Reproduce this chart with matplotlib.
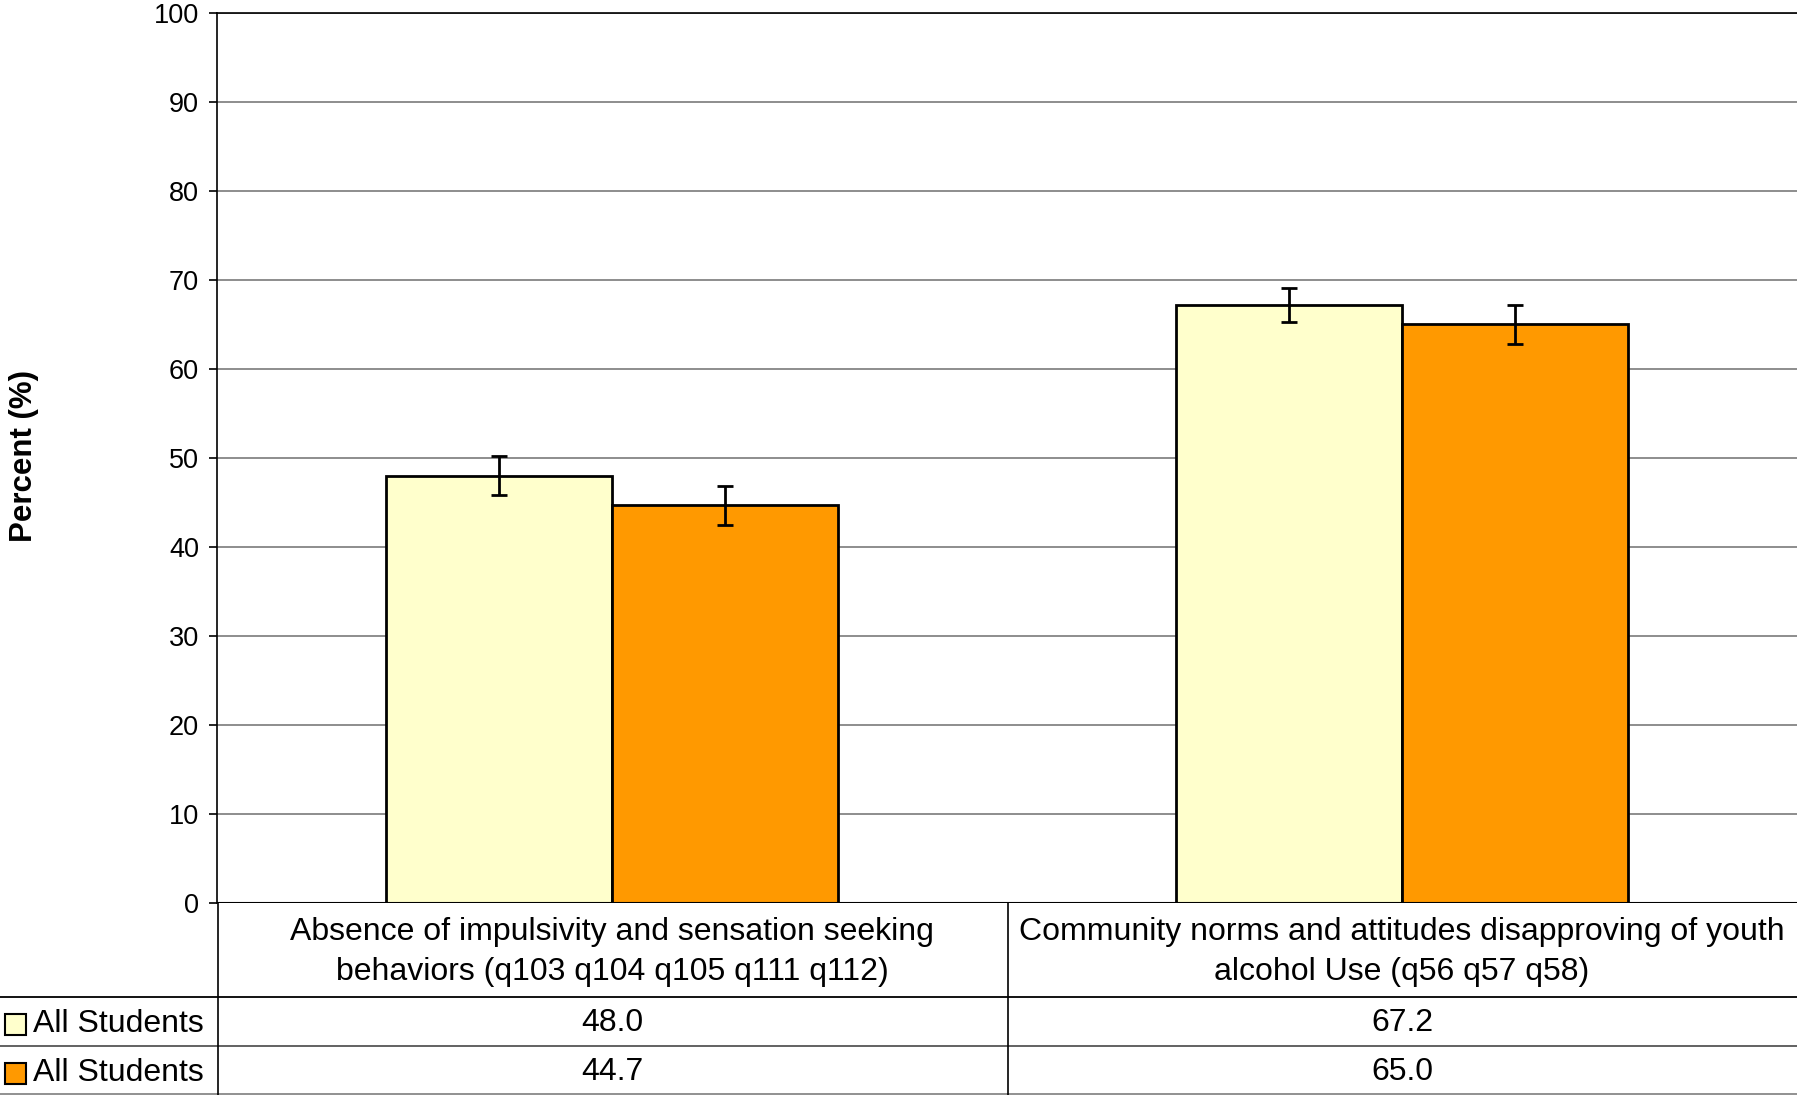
import matplotlib.pyplot as plt
import matplotlib.transforms as mtransforms
from matplotlib.lines import Line2D
from matplotlib.patches import Rectangle
import numpy as np

plt.rcParams['font.family'] = ['Liberation Sans', 'DejaVu Sans']

# data
categories = ['Absence of impulsivity and sensation seeking\nbehaviors (q103 q104 q105 q111 q112)',
              'Community norms and attitudes disapproving of youth\nalcohol Use (q56 q57 q58)']
series_names = ['All Students', 'All Students']
values_a = [48.0, 67.2]
errors_a = [2.2, 1.9]
values_b = [44.7, 65.0]
errors_b = [2.2, 2.2]
yticks = [0, 10, 20, 30, 40, 50, 60, 70, 80, 90, 100]

color_a = '#FFFFCC'
color_b = '#FF9900'

W, H = 1797, 1095
fig = plt.figure(figsize=(W / 100, H / 100), dpi=100)
ax = fig.add_axes([217 / W, 1 - 903.3 / H, 1 - 217 / W, (903.3 - 12.7) / H])

x = np.arange(len(categories))
width = 0.286
err_kw = dict(ecolor='black', elinewidth=2, capsize=6, capthick=2)
ax.bar(x - width / 2, values_a, width, color=color_a, edgecolor='black', linewidth=2,
       yerr=errors_a, error_kw=err_kw, zorder=3)
ax.bar(x + width / 2, values_b, width, color=color_b, edgecolor='black', linewidth=2,
       yerr=errors_b, error_kw=err_kw, zorder=3)

ax.set_xlim(-0.5, len(categories) - 0.5)
ax.set_ylim(0, 100)
ax.set_yticks(yticks)
ax.set_xticks([])
ax.tick_params(axis='y', labelsize=19.5, length=6, width=1.2, pad=7)
ax.yaxis.grid(True, color='#7a7a7a', linewidth=1.2, zorder=0)
for side in ['right', 'bottom']:
    ax.spines[side].set_visible(False)
ax.spines['left'].set_linewidth(1.2)
ax.spines['top'].set_linewidth(1.2)
ax.axhline(0, color='black', linewidth=1.5, zorder=4)
fig.text(24 / W, 1 - 456 / H, 'Percent (%)', rotation=90, ha='center', va='center',
         fontsize=22.5, fontweight='bold')

# table below the chart
def fy(py):
    return 1 - py / H

tr = mtransforms.blended_transform_factory(ax.transData, fig.transFigure)
for i, cat in enumerate(categories):
    ax.text(i, fy(952), cat, transform=tr, ha='center', va='center',
            fontsize=23, linespacing=1.45)
    ax.text(i, fy(1023), f'{values_a[i]:.1f}', transform=tr, ha='center', va='center', fontsize=23)
    ax.text(i, fy(1072), f'{values_b[i]:.1f}', transform=tr, ha='center', va='center', fontsize=23)

fig.add_artist(Line2D([0, 1], [fy(997), fy(997)], color='black', linewidth=1.3))
fig.add_artist(Line2D([0, 1], [fy(1046), fy(1046)], color='#555555', linewidth=1.3))
fig.add_artist(Line2D([0, 1], [fy(1093.5), fy(1093.5)], color='#888888', linewidth=1.3))
for px in [217.5, 1008]:
    fig.add_artist(Line2D([px / W, px / W], [fy(903), 0], color='black', linewidth=1.2))

for name, col, cy in [(series_names[0], color_a, 1024), (series_names[1], color_b, 1073)]:
    fig.add_artist(Rectangle((5 / W, fy(cy + 11)), 21 / W, 21 / H, transform=fig.transFigure,
                             facecolor=col, edgecolor='black', linewidth=1.5))
    fig.text(33 / W, fy(cy), name, ha='left', va='center', fontsize=23)

fig.savefig('out.png', dpi=100)
